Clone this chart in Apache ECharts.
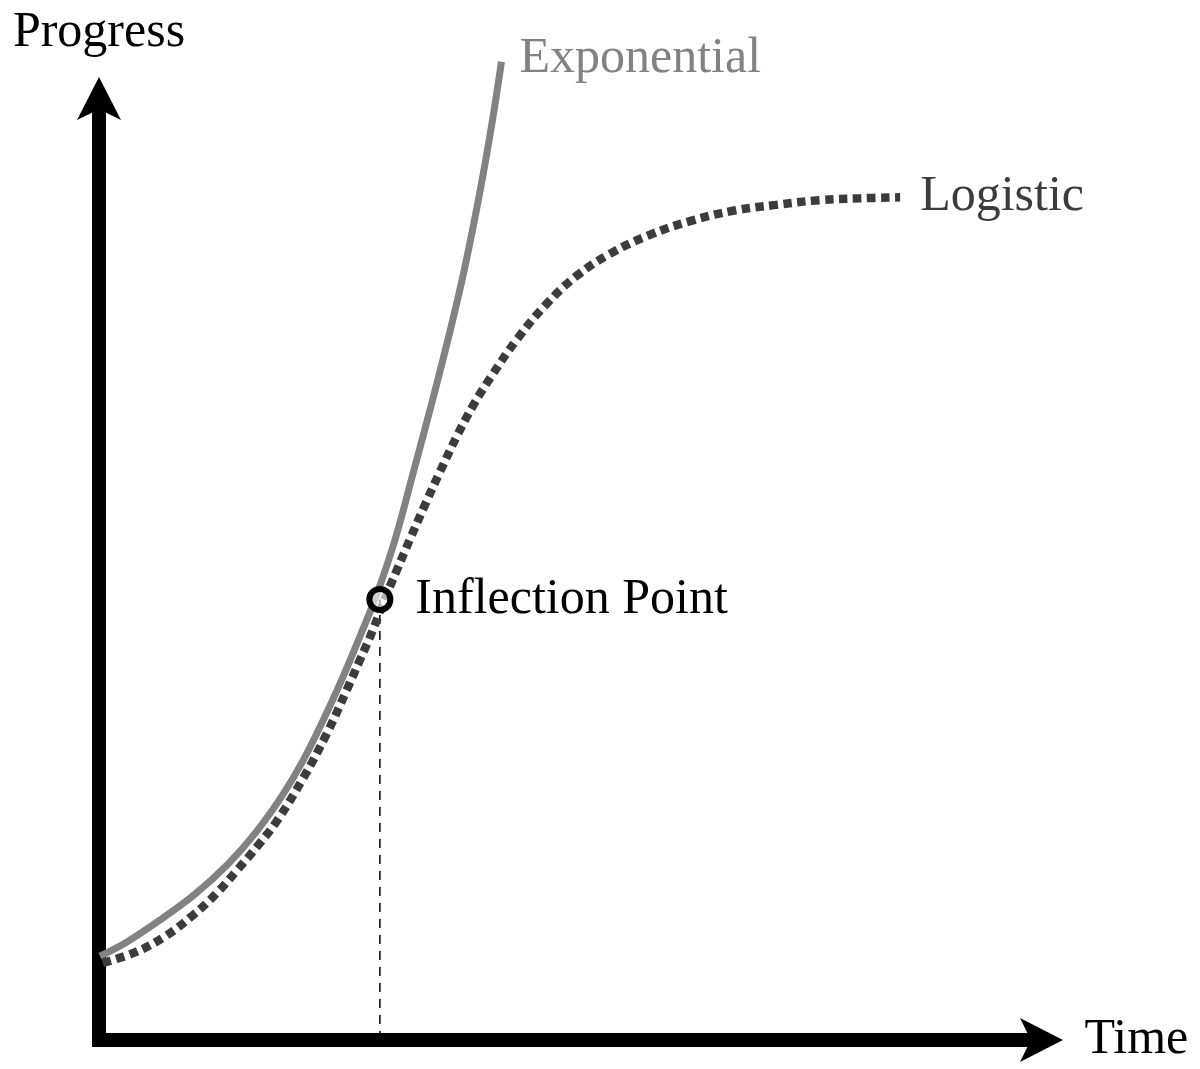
<!DOCTYPE html>
<html>
<head>
<meta charset="utf-8">
<title>Exponential vs Logistic</title>
<script src="https://cdn.jsdelivr.net/npm/echarts@6/dist/echarts.min.js"></script>
<style>
  html, body { margin: 0; padding: 0; background: #fff; }
  #chart { width: 1200px; height: 1069px; }
</style>
</head>
<body>
<div id="chart"></div>
<script>
// values (time, progress), axes run 0..10
const expTime = [0.01, 0.31, 0.67, 1.02, 1.37, 1.66, 1.94, 2.16, 2.38, 2.59, 2.77, 2.95, 3.14, 3.33, 3.54, 3.72, 3.88, 4.04, 4.17, 4.27];
const expProgress = [0.89, 1.05, 1.29, 1.55, 1.87, 2.20, 2.59, 2.96, 3.40, 3.86, 4.29, 4.74, 5.31, 6.01, 6.80, 7.51, 8.20, 9.00, 9.74, 10.39];

const logTime = [0.04, 0.38, 0.70, 0.99, 1.24, 1.47, 1.69, 1.89, 2.16, 2.42, 2.63, 2.77, 2.90, 3.03, 3.16, 3.30,
  3.47, 3.62, 3.80, 3.97, 4.15, 4.44, 4.75, 5.06, 5.42, 5.84, 6.28, 6.74, 7.18, 7.64, 8.08, 8.50];
const logProgress = [0.82, 0.93, 1.10, 1.32, 1.55, 1.81, 2.07, 2.33, 2.77, 3.26, 3.72, 4.04, 4.34, 4.68, 4.99, 5.32,
  5.71, 6.04, 6.42, 6.74, 7.03, 7.45, 7.82, 8.11, 8.35, 8.55, 8.70, 8.81, 8.87, 8.92, 8.94, 8.95];

const inflectionTime = 2.98;
const inflectionProgress = 4.68;

const seriesNames = ["Exponential", "Logistic"];
const axisNames = ["Time", "Progress"];
const inflectionName = "Inflection Point";

const serif = '"Liberation Serif", "Times New Roman", serif';

function zip(xs, ys) {
  return xs.map(function(x, i) {
    return [x, ys[i]];
  });
}

const axisLine = {
  show: true,
  symbol: ["none", "arrow"],
  symbolSize: [33, 43],
  symbolOffset: [0, 21.5],
  lineStyle: { color: "#000", width: 14, cap: "square" }
};

const option = {
  animation: false,
  backgroundColor: "#fff",
  grid: {
    left: 99,
    right: 158.5,
    top: 98.5,
    bottom: 29,
    containLabel: false,
    outerBoundsMode: "none"
  },
  xAxis: {
    type: "value",
    min: 0,
    max: 10,
    name: axisNames[0],
    nameLocation: "end",
    nameGap: 43,
    nameTextStyle: { color: "#000", fontSize: 50, fontFamily: serif, align: "left", verticalAlign: "middle" },
    axisLine: axisLine,
    axisTick: { show: false },
    axisLabel: { show: false },
    splitLine: { show: false }
  },
  yAxis: {
    type: "value",
    min: 0,
    max: 10,
    name: axisNames[1],
    nameLocation: "end",
    nameGap: 66,
    nameTextStyle: { color: "#000", fontSize: 50, fontFamily: serif, align: "center", verticalAlign: "middle" },
    axisLine: axisLine,
    axisTick: { show: false },
    axisLabel: { show: false },
    splitLine: { show: false }
  },
  series: [
    {
      name: "drop",
      type: "line",
      silent: true,
      clip: false,
      symbol: "none",
      data: [[inflectionTime, 0], [inflectionTime, inflectionProgress]],
      lineStyle: { color: "#000", width: 1.5, type: [9, 7] },
      z: 1
    },
    {
      name: seriesNames[0],
      type: "line",
      clip: false,
      smooth: 0.4,
      symbol: "none",
      data: zip(expTime, expProgress),
      lineStyle: { color: "#828282", width: 7 },
      endLabel: {
        show: true,
        formatter: "{a}",
        distance: 18,
        offset: [0, -3],
        color: "#828282",
        fontSize: 50,
        fontFamily: serif
      },
      z: 2
    },
    {
      name: seriesNames[1],
      type: "line",
      clip: false,
      smooth: 0.4,
      symbol: "none",
      data: zip(logTime, logProgress),
      lineStyle: { color: "#3c3c3c", width: 8.5, type: [8.5, 5.5] },
      endLabel: {
        show: true,
        formatter: "{a}",
        distance: 20,
        offset: [0, 0],
        color: "#3c3c3c",
        fontSize: 50,
        fontFamily: serif
      },
      z: 3
    },
    {
      name: inflectionName,
      type: "scatter",
      clip: false,
      symbol: "circle",
      symbolSize: 21,
      data: [[inflectionTime, inflectionProgress]],
      itemStyle: { color: "rgba(255,255,255,0.6)", borderColor: "#000", borderWidth: 6, opacity: 1 },
      label: {
        show: true,
        position: "right",
        distance: 22,
        offset: [0, 0],
        formatter: "{a}",
        color: "#000",
        fontSize: 50,
        fontFamily: serif
      },
      z: 4
    }
  ]
};

const chart = echarts.init(document.getElementById("chart"));
chart.setOption(option);
</script>
</body>
</html>
